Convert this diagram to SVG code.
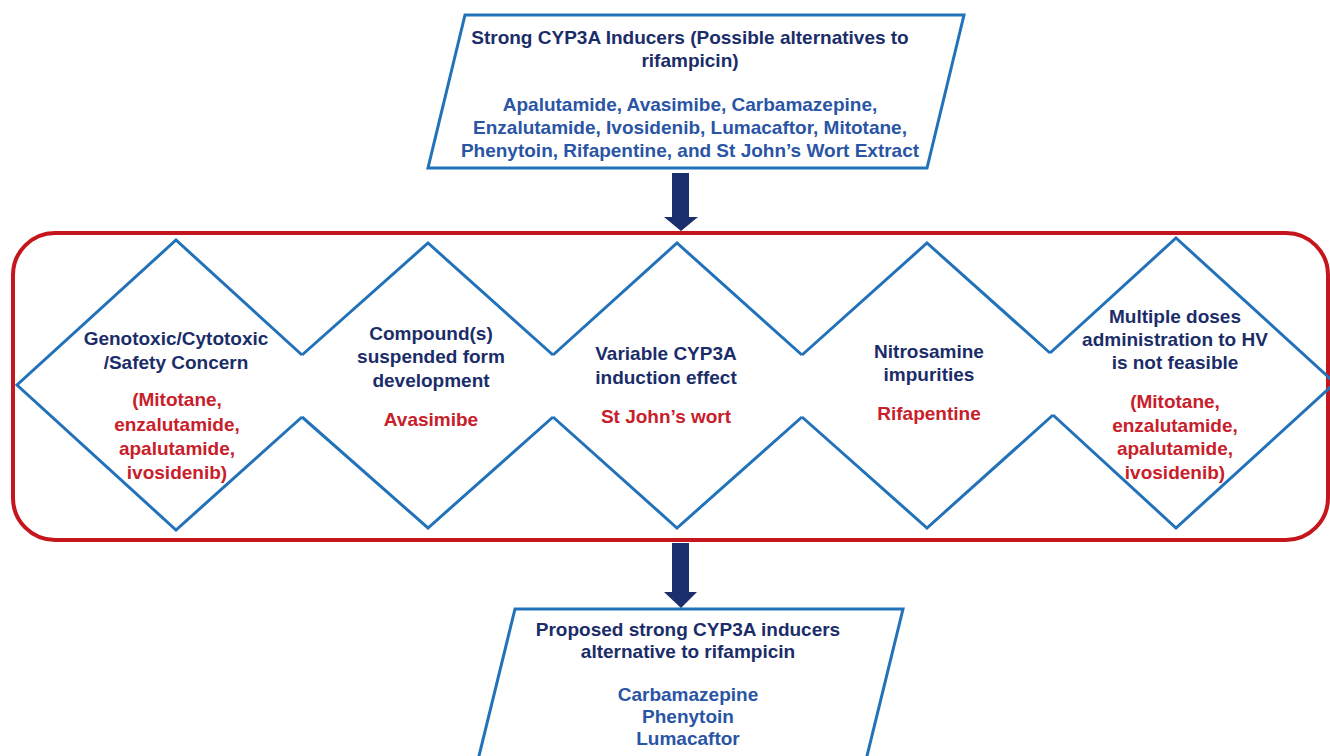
<svg xmlns="http://www.w3.org/2000/svg" width="1330" height="756" viewBox="0 0 1330 756">
<style>
text{font-family:"Liberation Sans",Arial,sans-serif;font-weight:bold;font-size:19px;text-anchor:middle}
.n{fill:#1b2d69}
.b{fill:#2a55a4}
.r{fill:#c8202b}
.box{fill:#fff;stroke:#2272b9;stroke-width:3}
.dia{fill:none;stroke:#2272b9;stroke-width:3;stroke-linejoin:miter}
.frame{fill:none;stroke:#c4161c;stroke-width:4}
.arrow{fill:#1a2f6b}
</style>
<rect width="1330" height="756" fill="#fff"/>
<g id="frame"><rect class="frame" x="13" y="233" width="1315" height="307" rx="42" ry="42"/></g>
<g id="top">
<polygon class="box" points="465,15 964,15 927,168 428,168"/>
<text class="n" x="690" y="44">Strong CYP3A Inducers (Possible alternatives to</text>
<text class="n" x="690" y="67">rifampicin)</text>
<text class="b" x="690" y="111">Apalutamide, Avasimibe, Carbamazepine,</text>
<text class="b" x="690" y="134">Enzalutamide, Ivosidenib, Lumacaftor, Mitotane,</text>
<text class="b" x="690" y="157">Phenytoin, Rifapentine, and St John’s Wort Extract</text>
</g>
<g id="d1">
<polyline class="dia" points="302,355 176,240 17,385 176,530 302,417"/>
<text class="n" x="176" y="345">Genotoxic/Cytotoxic</text>
<text class="n" x="176" y="369">/Safety Concern</text>
<text class="r" x="177" y="406">(Mitotane,</text>
<text class="r" x="177" y="431">enzalutamide,</text>
<text class="r" x="177" y="455">apalutamide,</text>
<text class="r" x="177" y="479">ivosidenib)</text>
</g>
<g id="d2">
<polyline class="dia" points="302,355 428,243 553,355"/>
<polyline class="dia" points="302,417 428,528 553,417"/>
<text class="n" x="431" y="340">Compound(s)</text>
<text class="n" x="431" y="363">suspended form</text>
<text class="n" x="431" y="387">development</text>
<text class="r" x="431" y="426">Avasimibe</text>
</g>
<g id="d3">
<polyline class="dia" points="553,355 677,243 802,355"/>
<polyline class="dia" points="553,417 677,528 802,417"/>
<text class="n" x="666" y="360">Variable CYP3A</text>
<text class="n" x="666" y="384">induction effect</text>
<text class="r" x="666" y="423">St John’s wort</text>
</g>
<g id="d4">
<polyline class="dia" points="802,355 927,243 1050,353"/>
<polyline class="dia" points="802,417 927,528 1053,415"/>
<text class="n" x="929" y="358">Nitrosamine</text>
<text class="n" x="929" y="381">impurities</text>
<text class="r" x="929" y="420">Rifapentine</text>
</g>
<g id="d5">
<polyline class="dia" points="1050,353 1176,238 1335,383 1176,528 1053,415"/>
<text class="n" x="1175" y="323">Multiple doses</text>
<text class="n" x="1175" y="346">administration to HV</text>
<text class="n" x="1175" y="369">is not feasible</text>
<text class="r" x="1175" y="408">(Mitotane,</text>
<text class="r" x="1175" y="432">enzalutamide,</text>
<text class="r" x="1175" y="455">apalutamide,</text>
<text class="r" x="1175" y="479">ivosidenib)</text>
</g>
<g id="bottom">
<polygon class="box" points="515,609 903,609 866,760 478,760"/>
<text class="n" x="688" y="636">Proposed strong CYP3A inducers</text>
<text class="n" x="688" y="658">alternative to rifampicin</text>
<text class="b" x="688" y="701">Carbamazepine</text>
<text class="b" x="688" y="723">Phenytoin</text>
<text class="b" x="688" y="745">Lumacaftor</text>
</g>
<g id="connectors">
<polygon class="arrow" points="672,173 689,173 689,217 698,217 681,231 664,217 672,217"/>
<polygon class="arrow" points="672,543 689,543 689,592 697,592 681,608 664,592 672,592"/>
</g>
</svg>
